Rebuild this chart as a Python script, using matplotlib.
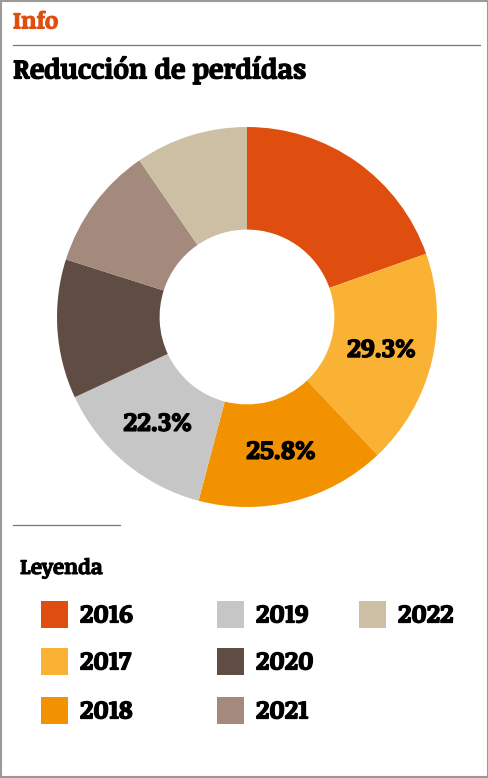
import matplotlib.pyplot as plt
import matplotlib.patheffects as pe
from matplotlib.patches import Rectangle

years = ['2016', '2017', '2018', '2019', '2020', '2021', '2022']
values = [31.3, 29.3, 25.8, 22.3, 18.9, 16.8, 15.3]
show_label = [False, True, True, True, False, False, False]
colors = ['#E04E0F', '#F9B233', '#F39200', '#C6C6C6', '#5F4C42', '#A38A7C', '#CCBFA3']

W, H = 489, 778
fig = plt.figure(figsize=(W / 100, H / 100), dpi=100)
fig.patch.set_facecolor('white')
serif = ['Noticia Text', 'Liberation Serif', 'DejaVu Serif']


def heavy(color='black', lw=0.8):
    # thicken the bold face a bit, the original uses a black weight
    return [pe.withStroke(linewidth=lw, foreground=color)]


# overlay in pixel coords for header, lines and legend
deco = fig.add_axes([0, 0, 1, 1])
deco.set_xlim(0, W)
deco.set_ylim(H, 0)
deco.axis('off')

deco.add_patch(Rectangle((0.75, 0.75), W - 1.5, H - 1.5, fill=False,
                         edgecolor='#9a9a9a', linewidth=1.5))
deco.text(13, 28.5, 'Info', color='#E04E0F', fontsize=16.5, fontweight='bold',
          family=serif, va='baseline', ha='left', path_effects=heavy('#E04E0F'))
deco.plot([13, 480], [45, 45], color='#777777', linewidth=0.9)
deco.text(13, 78.5, 'Reducción de perdídas', color='black', fontsize=19.5,
          fontweight='bold', family=serif, va='baseline', ha='left',
          path_effects=heavy(lw=0.9))
deco.plot([13, 120], [525, 525], color='#777777', linewidth=0.9)

# donut
cx, cy, R = 247, 317, 190
pie_ax = fig.add_axes([(cx - R) / W, (H - cy - R) / H, 2 * R / W, 2 * R / H])
labels = [f'{v:.1f}%' if s else '' for v, s in zip(values, show_label)]
wedges, texts = pie_ax.pie(values, colors=colors, startangle=90, counterclock=False,
                           labels=labels, labeldistance=0.73,
                           wedgeprops=dict(width=0.54, linewidth=0),
                           textprops=dict(fontsize=18.8, fontweight='bold',
                                          family=serif, color='black'))
for t in texts:
    t.set_ha('center')
    t.set_va('center')
    t.set_path_effects(heavy(lw=0.9))
pie_ax.set_xlim(-1, 1)
pie_ax.set_ylim(-1, 1)

# legend
deco.text(20, 574, 'Leyenda', fontsize=15, fontweight='bold', family=serif,
          va='baseline', ha='left', path_effects=heavy(lw=0.7))
col_x = [41, 217, 359]
row_y = [614, 661, 710]
sq = 27
for i, (year, color) in enumerate(zip(years, colors)):
    c, r = divmod(i, 3)
    x, y = col_x[c], row_y[r]
    deco.add_patch(Rectangle((x, y - sq / 2), sq, sq, facecolor=color, edgecolor='none'))
    deco.text(x + 39, y + 1, year, fontsize=18.3, fontweight='bold', family=serif,
              va='center', ha='left', path_effects=heavy(lw=0.9))

fig.savefig('out.png', dpi=100)
